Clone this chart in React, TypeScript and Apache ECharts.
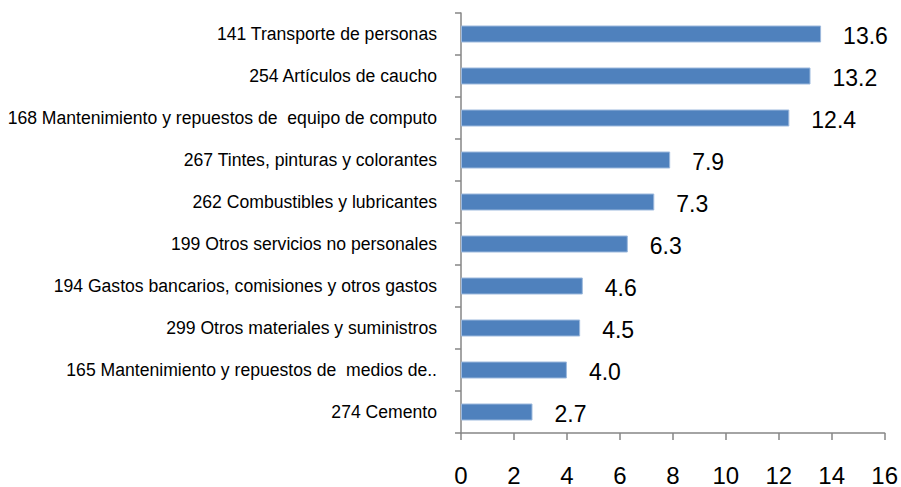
import React, { useEffect, useRef } from "react";
import * as echarts from "echarts";

const categories = [
  "141 Transporte de personas",
  "254 Artículos de caucho",
  "168 Mantenimiento y repuestos de  equipo de computo",
  "267 Tintes, pinturas y colorantes",
  "262 Combustibles y lubricantes",
  "199 Otros servicios no personales",
  "194 Gastos bancarios, comisiones y otros gastos",
  "299 Otros materiales y suministros",
  "165 Mantenimiento y repuestos de  medios de..",
  "274 Cemento",
];
const values = [13.6, 13.2, 12.4, 7.9, 7.3, 6.3, 4.6, 4.5, 4.0, 2.7];
const xMin = 0;
const xMax = 16;
const xStep = 2;

const font = '"Liberation Sans", Arial, sans-serif';

export default function App() {
  const ref = useRef<HTMLDivElement>(null);
  useEffect(() => {
    if (!ref.current) return;
    const chart = echarts.init(ref.current, null, { renderer: "svg" });
    chart.setOption({
      animation: false,
      grid: { left: 461, right: 16, top: 13, bottom: 53, containLabel: false },
      xAxis: {
        type: "value",
        min: xMin,
        max: xMax,
        interval: xStep,
        axisLine: { show: true, lineStyle: { color: "#868686", width: 1.5 } },
        axisTick: { show: true, length: 7, lineStyle: { color: "#868686", width: 1.5 } },
        splitLine: { show: false },
        axisLabel: { color: "#000", fontSize: 24, fontFamily: font, margin: 30 },
      },
      yAxis: {
        type: "category",
        data: categories,
        inverse: true,
        axisLine: { show: true, lineStyle: { color: "#868686", width: 1.5 } },
        axisTick: { show: true, length: 6, lineStyle: { color: "#868686", width: 1.5 } },
        axisLabel: { color: "#000", fontSize: 17.6, fontFamily: font, margin: 24 },
      },
      series: [
        {
          type: "bar",
          data: values,
          barWidth: 17,
          itemStyle: { color: "#4F81BD", borderColor: "#9DB9DD", borderWidth: 1 },
          label: {
            show: true,
            position: "right",
            distance: 22,
            offset: [0, 2],
            color: "#000",
            fontSize: 23,
            fontFamily: font,
            formatter: (p: any) => Number(p.value).toFixed(1),
          },
        },
      ],
    });
    return () => chart.dispose();
  }, []);
  return <div ref={ref} style={{ width: 901, height: 487, position: "absolute", left: 0, top: 0 }} />;
}
